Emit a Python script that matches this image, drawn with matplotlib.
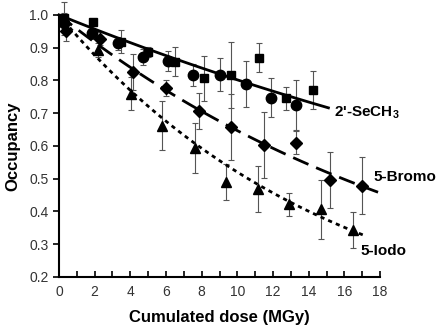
import numpy as np
import matplotlib
matplotlib.use('Agg')
import matplotlib.pyplot as plt

plt.rcParams['font.family'] = ['Liberation Sans', 'DejaVu Sans']
plt.rcParams['mathtext.fontset'] = 'custom'
plt.rcParams['mathtext.bf'] = 'Liberation Sans:bold'
plt.rcParams['mathtext.default'] = 'bf'

# 2'-SeCH3, two data sets (circles and squares)
circ_x = [0.3, 1.85, 3.3, 4.7, 6.1, 7.5, 9.0, 10.5, 11.9, 13.3]
circ_y = [0.975, 0.945, 0.914, 0.872, 0.86, 0.817, 0.817, 0.79, 0.747, 0.725]
circ_e = [0.02, 0.02, 0.02, 0.025, 0.03, 0.034, 0.05, 0.07, 0.06, 0.075]

sq_x = [0.3, 1.9, 3.5, 5.0, 6.5, 8.1, 9.65, 11.2, 12.7, 14.25]
sq_y = [0.99, 0.978, 0.918, 0.887, 0.857, 0.806, 0.817, 0.87, 0.745, 0.77]
sq_e = [0.05, 0.01, 0.035, 0.015, 0.045, 0.07, 0.1, 0.043, 0.035, 0.058]

# 5-Bromo (diamonds)
dia_x = [0.4, 2.3, 4.15, 6.0, 7.85, 9.65, 11.5, 13.3, 15.2, 17.0]
dia_y = [0.95, 0.927, 0.826, 0.777, 0.707, 0.658, 0.603, 0.61, 0.496, 0.478]
dia_e = [0.03, 0.02, 0.055, 0.025, 0.055, 0.1, 0.1, 0.035, 0.085, 0.087]

# 5-Iodo (triangles)
tri_x = [0.3, 2.2, 4.04, 5.8, 7.6, 9.37, 11.15, 12.9, 14.7, 16.5]
tri_y = [0.985, 0.893, 0.759, 0.661, 0.594, 0.49, 0.469, 0.422, 0.407, 0.343]
tri_e = [0.02, 0.02, 0.05, 0.075, 0.077, 0.055, 0.07, 0.035, 0.09, 0.055]

# exponential decay fits  occ = exp(-k * dose)
k_se, k_br, k_io = 0.0221, 0.0436, 0.0654
end_se, end_br, end_io = 15.1, 18.0, 17.05

fig = plt.figure(figsize=(4.4, 3.32), dpi=100)
ax = fig.add_axes([0.134, 0.166, 0.73, 0.789])

ebar = dict(ecolor='#555555', elinewidth=0.8, capsize=2, capthick=0.8, linestyle='none', color='black')
ax.errorbar(circ_x, circ_y, yerr=circ_e, marker='o', markersize=7.5, **ebar)
ax.errorbar(sq_x, sq_y, yerr=sq_e, marker='s', markersize=6, **ebar)
ax.errorbar(dia_x, dia_y, yerr=dia_e, marker='D', markersize=6, **ebar)
ax.errorbar(tri_x, tri_y, yerr=tri_e, marker='^', markersize=7, **ebar)

d = np.linspace(0, end_se, 100)
ax.plot(d, np.exp(-k_se * d), color='black', lw=2)
d = np.linspace(0, end_br, 100)
ax.plot(d, np.exp(-k_br * d), color='black', lw=2, dashes=(6, 3))
d = np.linspace(0, end_io, 100)
ax.plot(d, np.exp(-k_io * d), color='black', lw=2, dashes=(1.5, 1.5))

ax.text(15.4, 0.70, "2'-SeCH$_{3}$", fontsize=11, fontweight='bold', va='center')
ax.text(17.6, 0.505, "5-Bromo", fontsize=11, fontweight='bold', va='center')
ax.text(16.9, 0.28, "5-Iodo", fontsize=11, fontweight='bold', va='center')

ax.set_xlim(0, 18)
ax.set_ylim(0.2, 1.0)
ax.set_xticks(np.arange(0, 19, 2))
ax.set_xticks(np.arange(0, 19, 1), minor=True)
ax.set_yticks(np.arange(0.2, 1.01, 0.1))
ax.yaxis.set_major_formatter(matplotlib.ticker.FormatStrFormatter('%.1f'))
ax.tick_params(axis='x', which='both', direction='in', length=4, width=1.2, labelsize=10, pad=6, colors='black')
ax.tick_params(axis='x', labelcolor='#333333')
ax.tick_params(axis='y', direction='out', length=4, width=1.2, labelsize=10, labelcolor='#333333')
for s in ['top', 'right']:
    ax.spines[s].set_visible(False)
for s in ['left', 'bottom']:
    ax.spines[s].set_linewidth(1.5)
for art in ax.get_children():
    art.set_clip_on(False)

ax.set_xlabel('Cumulated dose (MGy)', fontsize=12, fontweight='bold', labelpad=8)
ax.set_ylabel('Occupancy', fontsize=12, fontweight='bold', labelpad=6)

fig.savefig('out.png', dpi=100)
